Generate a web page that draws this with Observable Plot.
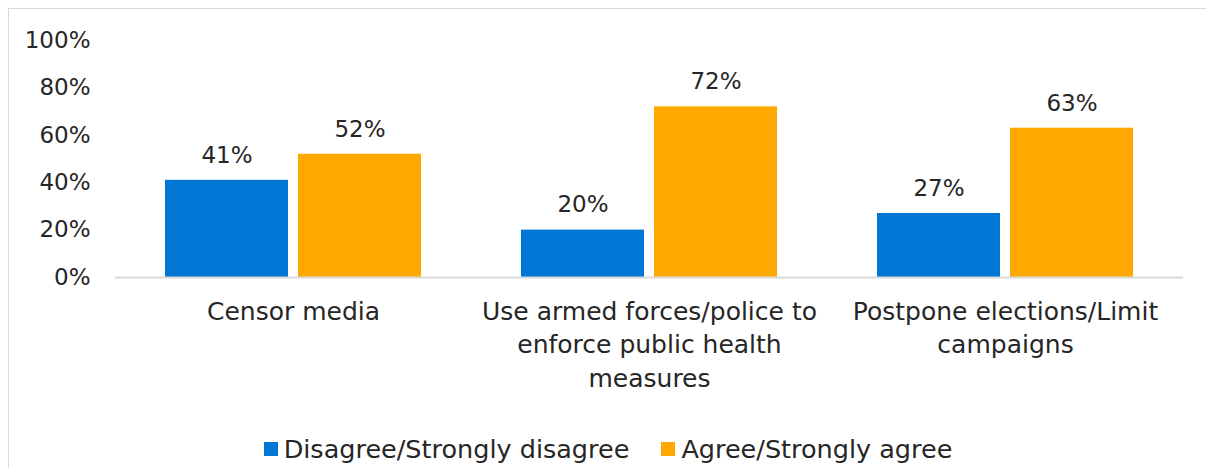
<!DOCTYPE html>
<html>
<head>
<meta charset="utf-8">
<script src="https://cdn.jsdelivr.net/npm/d3@7"></script>
<script src="https://cdn.jsdelivr.net/npm/@observablehq/plot@0.6"></script>
<style>
  html, body { margin: 0; padding: 0; background: #fff; overflow: hidden; }
  #frame { position: absolute; left: 8px; top: 8px; width: 1300px; height: 500px;
           border-left: 1.5px solid #d9d9d9; border-top: 1.5px solid #d9d9d9; box-sizing: border-box; }
  #chart { position: absolute; left: 0; top: 0; }
  #legend { position: absolute; left: 0; top: 425px; width: 1198px; display: flex; justify-content: center;
            font-family: "DejaVu Sans", sans-serif; font-size: 25.5px; color: #262626; gap: 32px; line-height: 30px; }
  .item { display: flex; align-items: center; }
  .sw { width: 14px; height: 14px; margin-right: 6px; display: inline-block; }
</style>
</head>
<body>
<div id="frame">
  <div id="chart"></div>
  <div id="legend"></div>
</div>
<script>
const categories = ["Censor media", "Use armed forces/police to enforce public health measures", "Postpone elections/Limit campaigns"];
const categoryLabels = ["Censor media", "Use armed forces/police to\nenforce public health\nmeasures", "Postpone elections/Limit\ncampaigns"];
const series = ["Disagree/Strongly disagree", "Agree/Strongly agree"];
const disagree = [41, 20, 27];
const agree = [52, 72, 63];
const yTicks = [0, 20, 40, 60, 80, 100];
const colors = ["#0077D4", "#FFA800"];

const data = [];
categories.forEach((c, i) => {
  data.push({category: c, series: series[0], value: disagree[i]});
  data.push({category: c, series: series[1], value: agree[i]});
});
const labelOf = new Map(categories.map((c, i) => [c, categoryLabels[i]]));

const chart = Plot.plot({
  width: 1197,
  height: 400,
  marginTop: 31,
  marginBottom: 132,
  marginLeft: 106,
  marginRight: 23,
  style: {fontFamily: "'DejaVu Sans', sans-serif", color: "#262626", background: "transparent", overflow: "visible"},
  fx: {domain: categories, padding: 0, label: null, axis: null},
  x: {domain: series, axis: null, paddingInner: 0.075, paddingOuter: 0.366},
  y: {domain: [0, 100], axis: null},
  color: {domain: series, range: colors},
  marks: [
    Plot.axisY({ticks: yTicks, tickFormat: d => d + "%", tickSize: 0, tickPadding: 25, fontSize: 23, label: null}),
    Plot.axisFx({anchor: "bottom", tickSize: 0, tickPadding: 19, fontSize: 25, lineHeight: 1.33, tickFormat: d => labelOf.get(d), label: null}),
    Plot.barY(data, {fx: "category", x: "series", y: "value", fill: "series"}),
    Plot.ruleY([0], {stroke: "#d9d9d9", strokeWidth: 2}),
    Plot.text(data, {fx: "category", x: "series", y: "value", text: d => d.value + "%", dy: -25, fontSize: 23, fill: "#262626"})
  ]
});
document.getElementById("chart").appendChild(chart);

const legend = document.getElementById("legend");
series.forEach((s, i) => {
  const item = document.createElement("div");
  item.className = "item";
  const sw = document.createElement("span");
  sw.className = "sw";
  sw.style.background = colors[i];
  item.appendChild(sw);
  item.appendChild(document.createTextNode(s));
  legend.appendChild(item);
});
</script>
</body>
</html>
